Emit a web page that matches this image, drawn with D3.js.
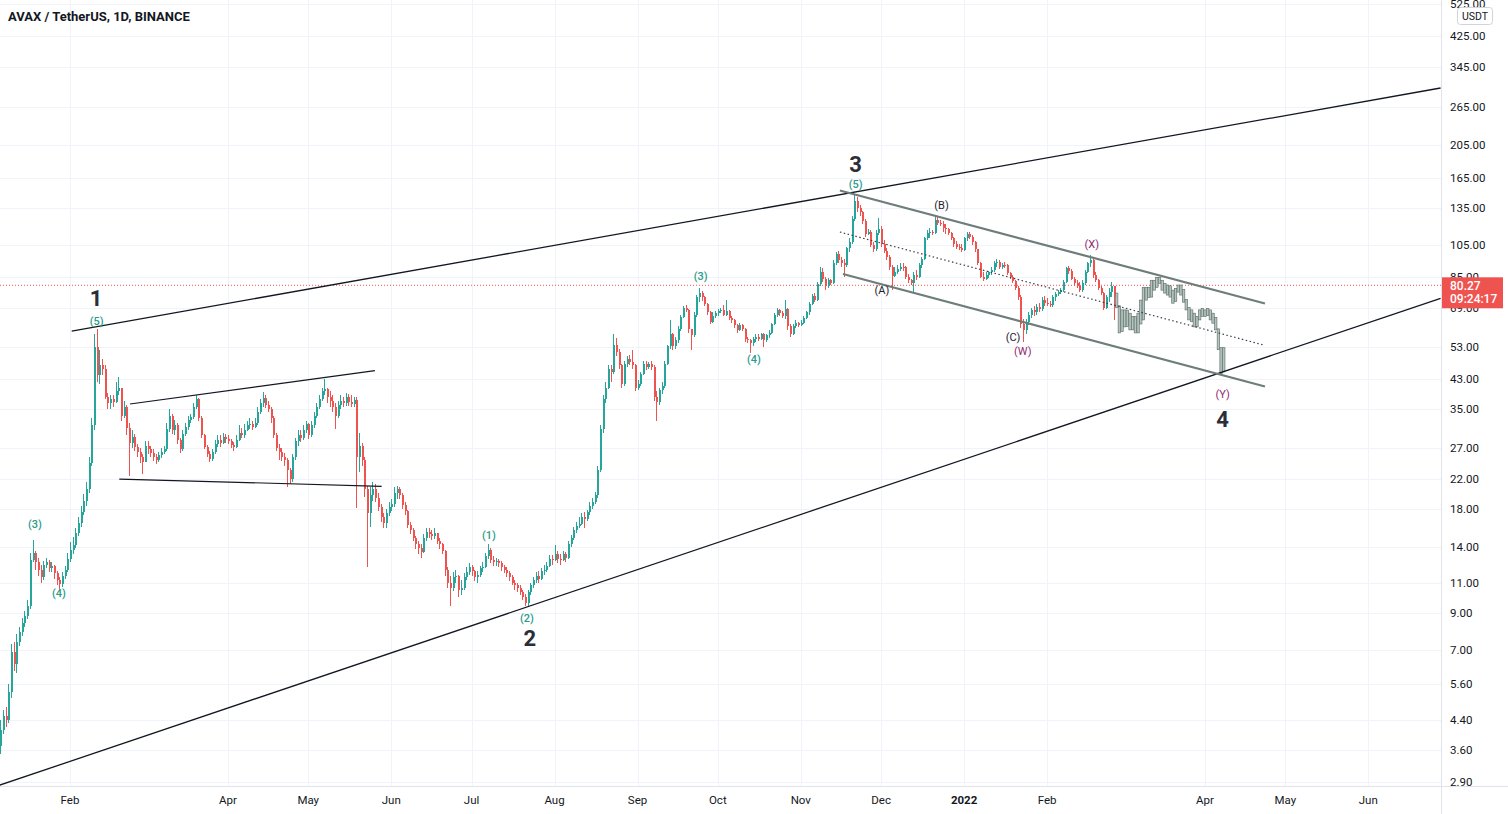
<!DOCTYPE html>
<html><head><meta charset="utf-8">
<script src="https://cdn.jsdelivr.net/npm/d3@7"></script>
<style>
html,body{margin:0;padding:0;background:#fff;overflow:hidden;}
svg{display:block;}
text{font-family:Roboto,"Liberation Sans",Arial,sans-serif;}
</style></head><body>
<svg id="chart" width="1508" height="814"></svg>
<script>
// ---------------- DATA ----------------
const title = "AVAX / TetherUS, 1D, BINANCE";
const startDate = "2021-01-06";
const firstOpen = 3.7;
const closes = [
4.1,4.5,4.4,5.3,6.9,6.4,7.4,7.9,8.4,8.8,
9.4,12.8,13.4,12.6,12.0,11.4,12.4,12.6,12.1,12.3,
11.7,11.2,10.9,11.5,12.0,12.9,13.7,14.1,15.3,16.4,
17.6,19.0,20.5,24.5,31.5,53,44,47,46,38,
36.5,37.5,36.8,39.5,40.5,33.5,35.5,31,28,29.2,
27.3,26.4,25.4,24.6,27.5,26.8,26.2,25.4,25.0,25.8,
26.4,26.9,30.8,33.5,30.5,31.5,28.5,26.8,29.8,31.2,
32.6,33.3,35.6,37.5,33,29.5,27.3,26,25.2,26.4,
27.8,28.5,28,29.2,28.8,28.4,27.6,27.2,28.6,30,
29.6,30.5,31.5,31.8,31.2,32,34.5,36.5,37.8,36,
35,33,29.5,27,26.3,25.4,25,23.3,22,25.5,
28.4,29.5,29,30.5,31.8,29.5,31.5,33.5,35.5,37.5,
39.5,40,38,37,35.5,33.5,36,37,36.5,38,
36.8,36.2,37.2,25.5,27.5,25,20.5,17.5,19.8,20.5,
19.3,18.2,17,16.4,17.5,18.2,18.6,20,20.5,19.8,
18.5,17.8,16.2,15.6,14.8,14.2,13.9,13.5,14.8,15.4,
15.2,15.0,15.3,14.5,14.2,13.6,12.0,11.0,10.6,11.4,
11.5,10.5,10.6,11.4,11.8,12.2,11.9,11.4,11.6,12.1,
12.2,13.1,13.7,12.8,12.6,12.7,12.5,12.2,12.0,11.7,
11.4,11.0,10.8,10.6,10.3,10.0,9.6,10.3,10.8,11.2,
11.5,11.3,11.9,12.0,12.3,12.9,12.8,13.3,12.9,12.8,
13.3,13.0,14.2,14.8,15.6,16.1,16.3,17.1,16.8,17.6,
18.4,18.9,19.7,23.4,30.7,37.5,40.5,46,45,54,
51.5,47,41.5,47.5,49,48,47,40.5,41.5,44.5,
47.5,46.5,47.5,46.6,38,36.8,39.8,41,47.5,53.5,
58,53.5,55.5,60,65,69,68.2,60,57.5,66,
74,76,74,71,67,63,65.5,66.5,67.5,68,
66,67.5,64.5,63.5,61.5,59.5,61.5,60,56,55.5,
54.5,56,57,56.2,57.8,55.5,57.5,58.5,62,66,
68,66.5,65.5,68.5,61,58,61,62.5,61.5,62.5,
64.5,67,71,74.5,73,81,88,84,80,83,
81.5,93,99,95,93,92,103,107,125,141,
135,131,123,113,114.5,105,102,114,117,106,
101,97,90.5,85.5,88,89.5,91,90.5,85,83,
81.5,86,85,92,96,110,114,115,114,124,
122,121,118,117,114,110,106,104,103,101.5,
110,113,111,107,102,93,85,84,86,87.5,
89,93,94,90.5,92,91.8,87,85,82.5,79,
74,62,59.5,63,66,68,67,69.5,68.5,73,
71.5,71,70.5,74,75.5,76.5,78,82,90,88.5,
84,81.5,80,78,81.5,88,93,95,86,83,
79,76,69,74,77,80,74,70,59,66,
61,66,60.5,64,59,62,71,78,74,78.5,
81,83,84.5,82.5,79,77.5,80,75,72,77.5,
80,78,73,69,65,64,61.5,64.5,67.5,68,
66,67.5,65,63,60,52.5,45,50.5
];
const highs = [
4.4,4.7,4.8,5.6,7.3,7.4,7.8,8.2,8.7,9.1,
9.8,13.4,14.6,13.6,13.0,12.4,12.7,13.0,12.8,12.6,
12.4,11.9,11.4,11.8,12.3,13.4,14.4,14.9,15.8,17.0,
18.3,19.9,21.5,25.5,33,58,60,52,49,47,
39,38.5,38.5,42,43.5,40.5,37,36,32,30.5,
29.8,27.8,27,26,28.3,28.4,27.5,26.8,26,26.3,
27,27.5,32,35.2,34,32.6,32,29,30.5,32,
33.5,34,36.5,38.6,37.8,33.5,29.8,27.6,26.5,26.8,
28.5,29.5,29.5,30,29.8,29.5,28.8,28.2,29.5,31.5,
31,31.8,32.5,33,32.5,33,35.5,37.5,39.3,38.5,
37,35.5,33.5,30,27.8,27,26.2,25.3,23.6,26,
29,30.5,30.5,31.5,32.5,32,32.3,34.5,36.5,38.5,
40.5,42.8,40.5,39.5,38.5,36.5,37,38.5,38,39,
38.8,38.5,38,38,30,28,25.5,21,20.8,21.5,
21.2,20,18.6,17.5,18,18.8,19.2,20.8,21,20.8,
20,18.8,17.9,16.5,15.8,15,14.5,14.2,15.2,15.8,
15.8,15.6,15.8,15.3,14.8,14.3,13.7,12.2,11.5,11.8,
12,11.6,11.2,11.7,12.2,12.5,12.4,12,11.9,12.3,
12.6,13.4,14.2,13.9,13.1,13,12.9,12.7,12.4,12.2,
11.9,11.6,11.2,11,10.8,10.5,10.2,10.5,11,11.4,
11.8,11.9,12.1,12.4,12.6,13.2,13.2,14.1,13.6,13.3,
13.6,13.5,14.5,15.1,16,16.5,17,17.5,17.6,17.9,
18.8,19.3,20.1,24,31.5,38.5,42,47,47,58,
56.5,52.5,47.5,48.5,50,50.5,52,47.5,42.5,45,
48.5,48.5,48.2,48.5,47,39.5,40.5,42,48.5,54,
63.7,58.5,57,61,66,70,70.5,68.5,60,67,
75,79,77.5,74.5,71.5,67.5,67,67.5,68.5,69,
70.5,72.7,68,65.5,64,62,62.5,62,60.5,57,
56,56.8,57.8,58,58.5,58.5,58,59.5,62.5,66.5,
69,68.5,67.5,72.7,69,62,62,63.5,63,63.5,
65.5,67.8,72,75.5,76,82,91,90,85,84.5,
84,95,100,101,97,96,104,110,128,146.8,
145,137,132,125,117,116,107,116,125.6,119,
109,103,98,92,90.5,92,93,93,91.5,86.5,
84,87.5,89,93,97,111,116,117.5,116,128,
127,124.5,123,121,118,115,111,108,106,106,
111,114.5,114.5,112,108,102,94,88,87.5,88.5,
90.5,94.7,95.5,95,93,93.5,92.5,88,86,83,
80,75,64,64,67,69,70,71,71.5,74,
74.5,73.5,72.5,75,77,78,79,83,91,91.5,
89.5,85,83,82,83,89,94,98,96,88,
84,80,77,75,79,82,80,76.2,69.2,68.1,
68.1,68,66.6,65.2,65.2,66.6,72.7,79.2,79.2,79.2,
83,83,84.6,84.6,83,81.3,80.4,79.2,77.7,78.6,
80.4,80.4,77.7,72.7,69.2,68.1,66.6,65.2,68.1,68.8,
68.1,68.8,68.1,66.6,64.8,59.6,52.9,52.9
];
const lows = [
3.5,4.0,4.2,4.3,5.1,6.1,6.0,7.2,7.7,8.2,
8.6,9.2,12.6,12.0,11.5,11.0,11.2,12.1,11.8,11.8,
11.3,10.8,10.5,10.7,11.3,11.8,12.6,13.3,13.9,15.0,
16.0,17.3,18.4,20.0,24,30.5,42,41.5,44,37.5,
35,35.2,35.5,36.5,38.5,32.5,33,29.5,22.4,27,
26.5,25.5,24.5,22.8,24.8,26,25.5,24.8,24.3,24.6,
25.3,26,26.5,30.2,29.8,29.5,27.8,26.2,26.5,29.4,
30.5,32,32.8,35,32.5,29,26.8,25.5,24.6,24.8,
26,27.3,27.2,27.8,28,27.8,27,26.5,27,28.3,
29,29,30.4,30.8,30.5,31,31.5,34,35.5,35.3,
34.4,32,29,26.5,25,24.8,24,20.8,21.2,21.5,
25,27.5,28.2,28.5,30,28.8,29.2,31,33,35,
37,38.5,36.5,35.5,34.5,30.8,33,35,35.5,35.8,
35.8,35.5,35.5,18.1,23,24,19.5,12.2,16,19,
18.8,17.8,16.5,15.8,15.8,17.2,17.8,18.2,19.2,19.2,
18,17.3,15.8,15.2,14.5,13.8,13.3,13.0,13.4,14.5,
14.8,14.6,14.7,14.2,13.8,13.3,11.5,10.6,9.4,10.4,
11,10.0,10.1,10.5,11.2,11.6,11.5,11.1,11.0,11.4,
11.8,12.1,12.9,12.5,12.3,12.3,12.2,11.9,11.7,11.4,
11.1,10.8,10.5,10.3,10.1,9.8,9.4,9.35,10.1,10.6,
11,11.0,11.2,11.6,11.8,12.2,12.4,12.7,12.5,12.4,
12.7,12.6,12.9,14,14.6,15.3,15.8,16.2,15.8,16.6,
17.3,18.0,18.6,19.3,23.0,30,36.5,40,42,44.5,
50,46,40.5,41,46.5,47,46,39.5,39.8,41,
44,45.5,45.8,45.5,37,32.4,36,38.8,40.5,47,
52.5,52,52.5,54.5,59,64.5,67,58.5,52,57,
65,72,72.5,70,66,62,62.5,64.5,65.5,66.5,
65.5,65.5,63.5,62.5,60.5,58.5,59,59,55,54.5,
51.2,53.5,55,55.3,55.8,53,55,56.5,58,61.5,
65,65.5,64.5,64,59.5,57,57.5,60.5,60.8,61,
62,64,66,70.5,72,72.5,80,82,77.7,79,
80.5,81,92,93,91,84.6,91,100,106,123,
131,128,121,111,112,104,100,101,112,104,
99.5,95,89,77.7,85,86.5,88.5,88.5,83.5,81.5,
80.5,76.2,83,84.5,90,95,109,110,112,113,
120,119,115,113,112,109,104,102,101.5,100,
101,108,109.5,105,100.5,92,84.5,82.5,83,84.5,
86,88,91,89.5,89.5,90,86,84,81.5,77.7,
73,60.5,55.1,58,61.5,64.5,65.5,66,67,67.5,
70,70,69.5,69.5,72.5,74.5,75.5,77,81.5,86.5,
83,80,79,76.5,77,80.5,87,91,84.5,82,
78,75,68,68.5,72,74,63.7,69.2,58.4,59.6,
60.8,61,59.6,59.6,58.4,58.4,63.7,63.7,72.7,74.2,
74.2,77.7,79.2,81.3,77.7,76.2,75.2,74.2,71.2,74.2,
76.7,75.2,71.7,68.1,63.7,63,60.8,60.8,63.7,65.2,
65.2,65.6,63.7,62.3,59.6,52.2,44.5,48.4
];
// bars from this index on are the grey "bars pattern" projection
const ghostStart = 417;

const priceTicks = [525,425,345,265,205,165,135,105,85,69,53,43,35,27,22,18,14,11,9,7,5.6,4.4,3.6,2.9];
const monthTicks = ["2021-02-01","2021-04-01","2021-05-01","2021-06-01","2021-07-01","2021-08-01","2021-09-01","2021-10-01","2021-11-01","2021-12-01","2022-01-01","2022-02-01","2022-04-01","2022-05-01","2022-06-01"];
const monthLabels = ["Feb","Apr","May","Jun","Jul","Aug","Sep","Oct","Nov","Dec","2022","Feb","Apr","May","Jun"];
const lastPrice = 80.27;
const countdown = "09:24:17";
const currency = "USDT";

// drawings: [bar index (days since start), price]
const trendTop    = [[26.63, 59.1], [538, 300.2]];
const trendBottom = [[-1, 2.827], [538, 73.6]];
const triUpper    = [[48.4, 36.3], [139.93, 45.4]];
const triLower    = [[44.42, 21.98], [142.43, 20.94]];
const chanUpper   = [[313.6, 151.3], [472.4, 71.1]];
const chanMid     = [[313.6, 114.6], [471.7, 53.9]];
const chanLower   = [[314.75, 86.6], [472.4, 40.8]];

const waveText  = ["1","(5)","(3)","(4)","(1)","(2)","2","(3)","(4)","3","(5)","(B)","(A)","(C)","(W)","(X)","(Y)","4"];
const waveBar   = [35.7,36.0,12.9,21.9,182.5,196.7,197.8,261.6,281.5,319.5,319.5,351.6,329.3,378.3,381.9,407.7,456.6,456.6];
const wavePrice = [73.7,63.0,16.17,10.26,15.12,8.68,7.59,85.0,49.0,180.6,157.2,136.4,77.5,56.6,51.7,105.1,38.8,32.8];
const waveKind  = ["big","minor","minor","minor","minor","minor","big","minor","minor","big","minor","inter","inter","inter","comb","comb","comb","big"];

// ---------------- CHART ----------------
const W = 1508, H = 814, plotW = 1441, plotH = 786;
const svg = d3.select("#chart");
const start = new Date(startDate + "T00:00:00Z");
const barDate = b => new Date(start.getTime() + b * 86400000);

const x = d3.scaleUtc()
  .domain([new Date("2021-01-06T00:00:00Z"), new Date("2022-06-01T00:00:00Z")])
  .range([0.4, 1368.3]);
const y = d3.scaleLog().domain([2.9, 425]).range([782, 36]);

const candles = closes.map((c, i) => {
  const o = i === 0 ? firstOpen : closes[i - 1];
  return {date: barDate(i), o, c,
          h: Math.max(highs[i], o, c), l: Math.min(lows[i], o, c),
          ghost: i >= ghostStart};
});

svg.append("rect").attr("width", W).attr("height", H).attr("fill", "#fff");
svg.append("defs").append("clipPath").attr("id", "plotclip")
  .append("rect").attr("x", 0).attr("y", 0).attr("width", plotW).attr("height", plotH);

// grid
const grid = svg.append("g").attr("clip-path", "url(#plotclip)").attr("shape-rendering", "crispEdges");
grid.selectAll(".hg").data(priceTicks).join("line")
  .attr("x1", 0).attr("x2", plotW)
  .attr("y1", d => Math.round(y(d)) + 0.5).attr("y2", d => Math.round(y(d)) + 0.5)
  .attr("stroke", "#f0f3fa").attr("stroke-width", 1);
grid.selectAll(".vg").data(monthTicks).join("line")
  .attr("y1", 0).attr("y2", plotH)
  .attr("x1", d => Math.round(x(new Date(d + "T00:00:00Z"))) + 0.5)
  .attr("x2", d => Math.round(x(new Date(d + "T00:00:00Z"))) + 0.5)
  .attr("stroke", "#f0f3fa").attr("stroke-width", 1);

const plot = svg.append("g").attr("clip-path", "url(#plotclip)");

// price line (dotted)
plot.append("line")
  .attr("x1", 0).attr("x2", plotW)
  .attr("y1", y(lastPrice)).attr("y2", y(lastPrice))
  .attr("stroke", "#ef5350").attr("stroke-width", 1).attr("stroke-dasharray", "1,2");

// candles
const real = candles.filter(d => !d.ghost);
const ghost = candles.filter(d => d.ghost);
const upC = "#26a69a", dnC = "#ef5350";
const cg = plot.append("g").attr("shape-rendering", "crispEdges");
cg.selectAll(".wick").data(real).join("line")
  .attr("x1", d => Math.round(x(d.date)) + 0.5).attr("x2", d => Math.round(x(d.date)) + 0.5)
  .attr("y1", d => y(d.h)).attr("y2", d => y(d.l))
  .attr("stroke", d => d.c >= d.o ? upC : dnC).attr("stroke-width", 1);
cg.selectAll(".body").data(real).join("rect")
  .attr("x", d => Math.round(x(d.date)) - 0.5).attr("width", 2)
  .attr("y", d => y(Math.max(d.o, d.c)))
  .attr("height", d => Math.max(1, Math.abs(y(d.o) - y(d.c))))
  .attr("fill", d => d.c >= d.o ? upC : dnC);

// grey projected bars (HL bars)
plot.append("g").selectAll("rect").data(ghost).join("rect")
  .attr("x", d => x(d.date) - 1.2).attr("width", 2.4)
  .attr("y", d => y(d.h)).attr("height", d => Math.max(1, y(d.l) - y(d.h)))
  .attr("fill", "#b4c4bf").attr("stroke", "#66766f").attr("stroke-width", 0.7);

// drawings
const line = d3.line().x(p => x(barDate(p[0]))).y(p => y(p[1]));
const drawings = [
  {pts: trendTop, stroke: "#131722", w: 1.3, dash: null},
  {pts: trendBottom, stroke: "#131722", w: 1.3, dash: null},
  {pts: triUpper, stroke: "#131722", w: 1.2, dash: null},
  {pts: triLower, stroke: "#131722", w: 1.2, dash: null},
  {pts: chanUpper, stroke: "#6e7d79", w: 2.2, dash: null},
  {pts: chanLower, stroke: "#6e7d79", w: 2.2, dash: null},
  {pts: chanMid, stroke: "#3c3f46", w: 1.2, dash: "1.5,2.5"}
];
plot.selectAll(".dr").data(drawings).join("path")
  .attr("d", d => line(d.pts)).attr("fill", "none")
  .attr("stroke", d => d.stroke).attr("stroke-width", d => d.w)
  .attr("stroke-dasharray", d => d.dash);

// wave labels
const kindStyle = {
  big:   {size: 22, weight: 700, fill: "#2a2e39"},
  minor: {size: 11, weight: 500, fill: "#2b9b8c"},
  inter: {size: 11, weight: 400, fill: "#1e222d"},
  comb:  {size: 11, weight: 400, fill: "#8e2a6e"}
};
plot.selectAll(".wl").data(waveText.map((t, i) => ({t, b: waveBar[i], p: wavePrice[i], k: waveKind[i]})))
  .join("text")
  .attr("x", d => x(barDate(d.b))).attr("y", d => y(d.p))
  .attr("text-anchor", "middle").attr("dominant-baseline", "central")
  .attr("font-size", d => kindStyle[d.k].size).attr("font-weight", d => kindStyle[d.k].weight)
  .attr("fill", d => kindStyle[d.k].fill)
  .text(d => d.t);

// axes borders
svg.append("line").attr("x1", plotW + 0.5).attr("x2", plotW + 0.5).attr("y1", 0).attr("y2", H)
  .attr("stroke", "#e0e3eb").attr("stroke-width", 1);
svg.append("line").attr("x1", 0).attr("x2", W).attr("y1", plotH + 0.5).attr("y2", plotH + 0.5)
  .attr("stroke", "#e0e3eb").attr("stroke-width", 1);

// price axis labels
svg.append("g").selectAll("text").data(priceTicks).join("text")
  .attr("x", 1450).attr("y", d => y(d)).attr("dominant-baseline", "central")
  .attr("font-size", 11.5).attr("fill", "#131722")
  .text(d => d.toFixed(2));

// last price label
const lp = y(lastPrice);
svg.append("rect").attr("x", 1442).attr("y", lp - 8).attr("width", 61).attr("height", 31)
  .attr("fill", "#ef5350");
svg.append("text").attr("x", 1450).attr("y", lp + 1).attr("dominant-baseline", "central")
  .attr("font-size", 12).attr("font-weight", 500).attr("fill", "#fff").text(lastPrice.toFixed(2));
svg.append("text").attr("x", 1450).attr("y", lp + 14).attr("dominant-baseline", "central")
  .attr("font-size", 12).attr("font-weight", 500).attr("fill", "#fff").text(countdown);

// currency box
svg.append("rect").attr("x", 1457.5).attr("y", 7.5).attr("width", 35).attr("height", 17).attr("rx", 3)
  .attr("fill", "#fff").attr("stroke", "#d1d4dc");
svg.append("text").attr("x", 1475).attr("y", 16.5).attr("text-anchor", "middle").attr("dominant-baseline", "central")
  .attr("font-size", 10.5).attr("fill", "#131722").text(currency);

// time axis labels
svg.append("g").selectAll("text").data(monthTicks).join("text")
  .attr("x", d => x(new Date(d + "T00:00:00Z"))).attr("y", 800)
  .attr("text-anchor", "middle").attr("dominant-baseline", "central")
  .attr("font-size", 11.5).attr("fill", "#131722")
  .attr("font-weight", (d, i) => monthLabels[i] === "2022" ? 700 : 400)
  .text((d, i) => monthLabels[i]);

// title
svg.append("text").attr("x", 8).attr("y", 16).attr("dominant-baseline", "central")
  .attr("font-size", 13).attr("font-weight", 700).attr("fill", "#131722").text(title);
</script>
</body></html>
